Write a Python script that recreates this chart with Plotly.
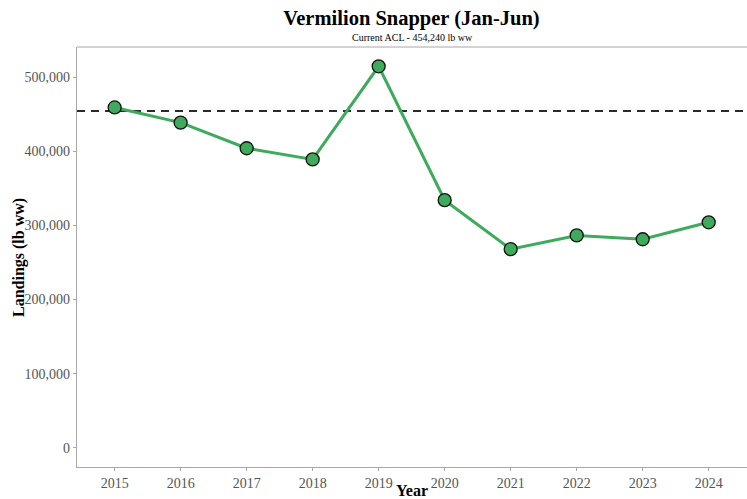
import plotly.graph_objects as go

years = [2015, 2016, 2017, 2018, 2019, 2020, 2021, 2022, 2023, 2024]
landings = [459000, 438500, 404000, 389000, 514500, 334000, 268000, 286500, 281300, 304200]
acl = 454240
title = "Vermilion Snapper (Jan-Jun)"
subtitle = "Current ACL - 454,240 lb ww"
ytick_vals = [0, 100000, 200000, 300000, 400000, 500000]
ytick_text = ["0", "100,000", "200,000", "300,000", "400,000", "500,000"]

green = "#3dab5b"
serif = "Liberation Serif, Times New Roman, serif"

fig = go.Figure()
fig.add_trace(go.Scatter(
    x=[2014.43, 2024.58], y=[acl, acl], mode="lines",
    line=dict(color="#2b2b2b", width=2, dash="8px,6px"),
    hoverinfo="skip", showlegend=False))
fig.add_trace(go.Scatter(
    x=years, y=landings, mode="lines+markers",
    line=dict(color=green, width=3),
    marker=dict(size=13, color=green, line=dict(color="#111111", width=1.3)),
    showlegend=False))

fig.update_layout(
    width=747, height=499,
    margin=dict(l=77, r=0, t=47, b=32),
    paper_bgcolor="white", plot_bgcolor="white",
    font=dict(family=serif),
    title=dict(text="<b>" + title + "</b>", x=(77 + 746) / 2 / 747, xanchor="center",
               y=1 - 18 / 499, yanchor="middle", font=dict(size=20.5, color="black", family=serif)),
    xaxis=dict(range=[2014.43, 2024.58], tickmode="array", tickvals=years,
               ticktext=[str(y) for y in years], showgrid=False, zeroline=False,
               showline=True, linecolor="#a8a8a8", linewidth=1.2,
               ticks="outside", ticklen=3, tickcolor="#a8a8a8",
               tickfont=dict(size=14, color="#555555", family=serif)),
    yaxis=dict(range=[-25700, 540500], tickmode="array", tickvals=ytick_vals,
               ticktext=ytick_text, showgrid=False, zeroline=False,
               showline=True, linecolor="#a8a8a8", linewidth=1.2,
               ticks="outside", ticklen=3, tickcolor="#a8a8a8",
               tickfont=dict(size=14, color="#555555", family=serif)),
    shapes=[dict(type="line", xref="paper", yref="paper", x0=0, x1=1, y0=1, y1=1,
                 line=dict(color="#a8a8a8", width=1.2))],
    annotations=[
        dict(text=subtitle, xref="paper", yref="paper", x=0.5, y=1 + 10 / 420,
             xanchor="center", yanchor="middle", showarrow=False,
             font=dict(size=10, color="black", family=serif)),
        dict(text="<b>Year</b>", xref="paper", yref="paper", x=0.5, y=-23 / 420,
             xanchor="center", yanchor="middle", showarrow=False,
             font=dict(size=16, color="black", family=serif)),
        dict(text="<b>Landings (lb ww)</b>", xref="paper", yref="paper",
             x=(19 - 77) / 670, y=0.5, xanchor="center", yanchor="middle",
             textangle=-90, showarrow=False,
             font=dict(size=16, color="black", family=serif)),
    ],
)

fig.write_html("out.html", config={"displayModeBar": False},
               post_script="document.body.style.margin='0';document.body.style.overflow='hidden';")
